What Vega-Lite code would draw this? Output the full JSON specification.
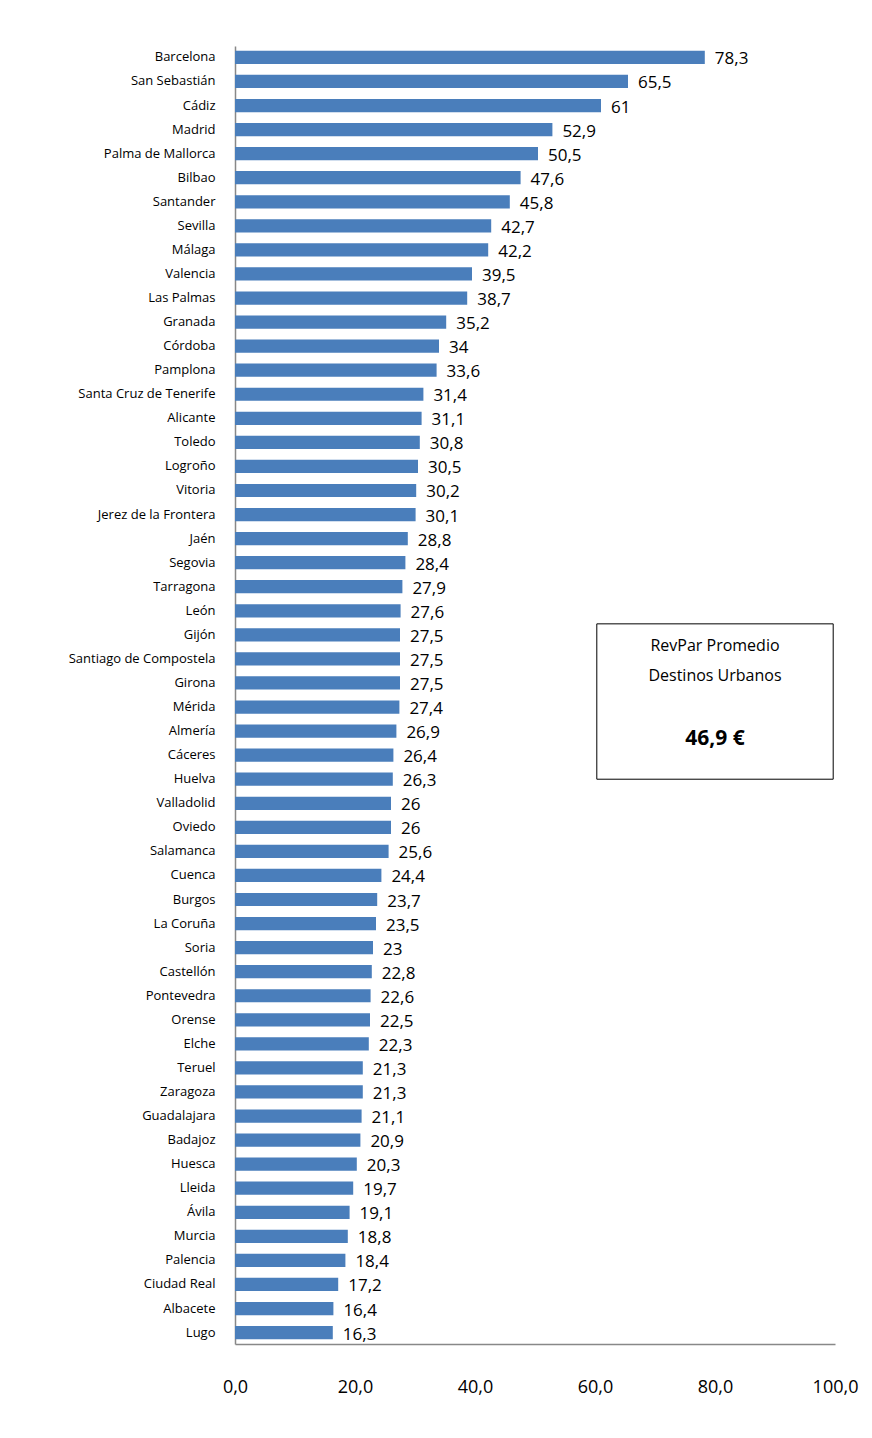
{
"$schema":"https://vega.github.io/schema/vega-lite/v6.json",
"width":600,"height":1298,
"autosize":{"type":"none"},
"padding":{"left":235,"top":46,"right":37,"bottom":94},
"background":"white",
"config":{"view":{"stroke":null},"font":"Open Sans"},
"data":{"values":[
{"c":"Barcelona","v":78.3},{"c":"San Sebastián","v":65.5},{"c":"Cádiz","v":61},{"c":"Madrid","v":52.9},{"c":"Palma de Mallorca","v":50.5},{"c":"Bilbao","v":47.6},{"c":"Santander","v":45.8},{"c":"Sevilla","v":42.7},{"c":"Málaga","v":42.2},{"c":"Valencia","v":39.5},{"c":"Las Palmas","v":38.7},{"c":"Granada","v":35.2},{"c":"Córdoba","v":34},{"c":"Pamplona","v":33.6},{"c":"Santa Cruz de Tenerife","v":31.4},{"c":"Alicante","v":31.1},{"c":"Toledo","v":30.8},{"c":"Logroño","v":30.5},{"c":"Vitoria","v":30.2},{"c":"Jerez de la Frontera","v":30.1},{"c":"Jaén","v":28.8},{"c":"Segovia","v":28.4},{"c":"Tarragona","v":27.9},{"c":"León","v":27.6},{"c":"Gijón","v":27.5},{"c":"Santiago de Compostela","v":27.5},{"c":"Girona","v":27.5},{"c":"Mérida","v":27.4},{"c":"Almería","v":26.9},{"c":"Cáceres","v":26.4},{"c":"Huelva","v":26.3},{"c":"Valladolid","v":26},{"c":"Oviedo","v":26},{"c":"Salamanca","v":25.6},{"c":"Cuenca","v":24.4},{"c":"Burgos","v":23.7},{"c":"La Coruña","v":23.5},{"c":"Soria","v":23},{"c":"Castellón","v":22.8},{"c":"Pontevedra","v":22.6},{"c":"Orense","v":22.5},{"c":"Elche","v":22.3},{"c":"Teruel","v":21.3},{"c":"Zaragoza","v":21.3},{"c":"Guadalajara","v":21.1},{"c":"Badajoz","v":20.9},{"c":"Huesca","v":20.3},{"c":"Lleida","v":19.7},{"c":"Ávila","v":19.1},{"c":"Murcia","v":18.8},{"c":"Palencia","v":18.4},{"c":"Ciudad Real","v":17.2},{"c":"Albacete","v":16.4},{"c":"Lugo","v":16.3}
]},
"encoding":{
"y":{"field":"c","type":"nominal","sort":null,"scale":{"paddingInner":0.45,"paddingOuter":0.2},
"axis":{"title":null,"ticks":false,"labelFontSize":13,"labelColor":"black","labelPadding":20,"domainColor":"#888","domainWidth":1.5}}
},
"layer":[
{"mark":{"type":"bar","color":"#4a7ebb"},
"encoding":{"x":{"field":"v","type":"quantitative","scale":{"domain":[0,100]},
"axis":{"title":null,"grid":false,"ticks":false,"values":[0,20,40,60,80,100],"labelExpr":"replace(format(datum.value,'.1f'),'.',',')","labelFontSize":18,"labelColor":"black","labelPadding":34,"domainColor":"#888","domainWidth":1.5,"labelFlush":false}}}},
{"mark":{"type":"text","align":"left","dx":10,"dy":2,"fontSize":17,"color":"black"},
"transform":[{"calculate":"replace(toString(datum.v),'.',',')","as":"lbl"}],
"encoding":{"x":{"field":"v","type":"quantitative"},"text":{"field":"lbl"}}},
{"data":{"values":[{"x1":60.3,"x2":99.7,"y1":"Gijón","y2":"Huelva"}]},
"mark":{"type":"rect","fill":"white","stroke":"black","strokeWidth":1,"yOffset":-11},
"encoding":{"x":{"field":"x1","type":"quantitative"},"x2":{"field":"x2"},"y":{"field":"y1","type":"nominal","sort":null,"band":0},"y2":{"field":"y2"}}},
{"data":{"values":[{"t":"RevPar Promedio","r":"Gijón"}]},
"mark":{"type":"text","fontSize":16,"color":"black","dy":11},
"encoding":{"x":{"datum":80},"y":{"field":"r","type":"nominal","sort":null},"text":{"field":"t"}}},
{"data":{"values":[{"t":"Destinos Urbanos","r":"Girona"}]},
"mark":{"type":"text","fontSize":16,"color":"black","dy":-7},
"encoding":{"x":{"datum":80},"y":{"field":"r","type":"nominal","sort":null},"text":{"field":"t"}}},
{"data":{"values":[{"t":"46,9 €","r":"Almería"}]},
"mark":{"type":"text","fontSize":21,"fontWeight":"bold","color":"black","dy":8},
"encoding":{"x":{"datum":80},"y":{"field":"r","type":"nominal","sort":null},"text":{"field":"t"}}}
]
}
